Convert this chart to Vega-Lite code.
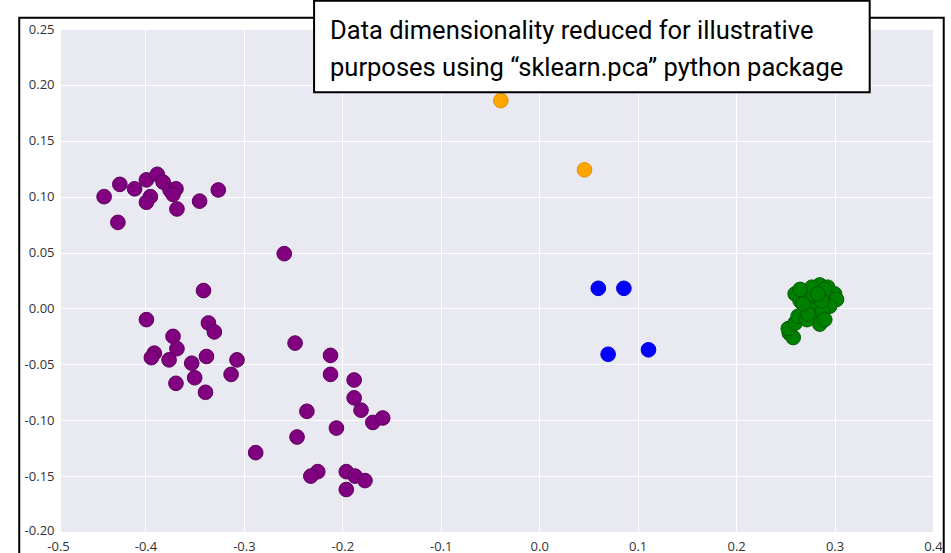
{
  "$schema": "https://vega.github.io/schema/vega-lite/v6.json",
  "width": 872,
  "height": 503,
  "autosize": {"type": "none"},
  "padding": {"left": 61, "top": 29, "right": 18, "bottom": 21},
  "background": "white",
  "config": {"view": {"fill": "#E8E9F1", "stroke": null}, "font": "Open Sans"},
  "datasets": {
    "pts": [
      {"x": -0.442, "y": 0.100, "c": "p"}, {"x": -0.426, "y": 0.111, "c": "p"}, {"x": -0.411, "y": 0.107, "c": "p"},
      {"x": -0.399, "y": 0.115, "c": "p"}, {"x": -0.388, "y": 0.120, "c": "p"}, {"x": -0.382, "y": 0.113, "c": "p"},
      {"x": -0.395, "y": 0.100, "c": "p"}, {"x": -0.399, "y": 0.095, "c": "p"}, {"x": -0.375, "y": 0.106, "c": "p"},
      {"x": -0.369, "y": 0.107, "c": "p"}, {"x": -0.372, "y": 0.102, "c": "p"}, {"x": -0.368, "y": 0.089, "c": "p"},
      {"x": -0.345, "y": 0.096, "c": "p"}, {"x": -0.326, "y": 0.106, "c": "p"}, {"x": -0.428, "y": 0.077, "c": "p"},
      {"x": -0.259, "y": 0.049, "c": "p"},
      {"x": -0.341, "y": 0.016, "c": "p"}, {"x": -0.399, "y": -0.010, "c": "p"}, {"x": -0.336, "y": -0.013, "c": "p"},
      {"x": -0.330, "y": -0.021, "c": "p"}, {"x": -0.372, "y": -0.025, "c": "p"}, {"x": -0.368, "y": -0.036, "c": "p"},
      {"x": -0.391, "y": -0.040, "c": "p"}, {"x": -0.394, "y": -0.044, "c": "p"}, {"x": -0.376, "y": -0.046, "c": "p"},
      {"x": -0.338, "y": -0.043, "c": "p"}, {"x": -0.353, "y": -0.049, "c": "p"}, {"x": -0.307, "y": -0.046, "c": "p"},
      {"x": -0.350, "y": -0.062, "c": "p"}, {"x": -0.313, "y": -0.059, "c": "p"}, {"x": -0.369, "y": -0.067, "c": "p"},
      {"x": -0.339, "y": -0.075, "c": "p"},
      {"x": -0.248, "y": -0.031, "c": "p"}, {"x": -0.212, "y": -0.042, "c": "p"}, {"x": -0.212, "y": -0.059, "c": "p"},
      {"x": -0.188, "y": -0.064, "c": "p"}, {"x": -0.188, "y": -0.080, "c": "p"}, {"x": -0.181, "y": -0.091, "c": "p"},
      {"x": -0.169, "y": -0.102, "c": "p"}, {"x": -0.159, "y": -0.098, "c": "p"}, {"x": -0.236, "y": -0.092, "c": "p"},
      {"x": -0.206, "y": -0.107, "c": "p"}, {"x": -0.246, "y": -0.115, "c": "p"}, {"x": -0.288, "y": -0.129, "c": "p"},
      {"x": -0.225, "y": -0.146, "c": "p"}, {"x": -0.232, "y": -0.150, "c": "p"}, {"x": -0.196, "y": -0.146, "c": "p"},
      {"x": -0.187, "y": -0.150, "c": "p"}, {"x": -0.177, "y": -0.154, "c": "p"}, {"x": -0.196, "y": -0.162, "c": "p"},
      {"x": -0.039, "y": 0.186, "c": "o"}, {"x": 0.046, "y": 0.124, "c": "o"},
      {"x": 0.060, "y": 0.018, "c": "b"}, {"x": 0.086, "y": 0.018, "c": "b"}, {"x": 0.070, "y": -0.041, "c": "b"},
      {"x": 0.111, "y": -0.037, "c": "b"},
      {"x": 0.254, "y": -0.022, "c": "g"}, {"x": 0.258, "y": -0.026, "c": "g"}, {"x": 0.253, "y": -0.018, "c": "g"},
      {"x": 0.260, "y": -0.013, "c": "g"}, {"x": 0.263, "y": -0.007, "c": "g"}, {"x": 0.260, "y": 0.013, "c": "g"},
      {"x": 0.265, "y": 0.007, "c": "g"}, {"x": 0.272, "y": 0.014, "c": "g"}, {"x": 0.285, "y": 0.021, "c": "g"},
      {"x": 0.293, "y": 0.019, "c": "g"}, {"x": 0.300, "y": 0.013, "c": "g"}, {"x": 0.302, "y": 0.008, "c": "g"},
      {"x": 0.295, "y": 0.002, "c": "g"}, {"x": 0.278, "y": 0.010, "c": "g"}, {"x": 0.282, "y": 0.002, "c": "g"},
      {"x": 0.275, "y": -0.001, "c": "g"}, {"x": 0.280, "y": -0.007, "c": "g"}, {"x": 0.288, "y": -0.002, "c": "g"},
      {"x": 0.285, "y": -0.014, "c": "g"}, {"x": 0.290, "y": -0.010, "c": "g"}, {"x": 0.272, "y": -0.010, "c": "g"},
      {"x": 0.273, "y": -0.005, "c": "g"}, {"x": 0.290, "y": 0.017, "c": "g"}, {"x": 0.287, "y": 0.007, "c": "g"},
      {"x": 0.268, "y": 0.004, "c": "g"}, {"x": 0.277, "y": 0.019, "c": "g"}, {"x": 0.265, "y": 0.017, "c": "g"},
      {"x": 0.283, "y": 0.013, "c": "g"}
    ]
  },
  "layer": [
    {
      "data": {"name": "pts"},
      "mark": {"type": "circle", "size": 215, "opacity": 1, "strokeWidth": 1},
      "encoding": {
        "x": {
          "field": "x", "type": "quantitative",
          "scale": {"domain": [-0.5, 0.4], "range": [-14, 872], "nice": false, "zero": false},
          "axis": {
            "title": null, "values": [-0.5, -0.4, -0.3, -0.2, -0.1, 0, 0.1, 0.2, 0.3, 0.4],
            "format": ".1f", "labelExpr": "replace(datum.label, '\u2212', '-')",
            "domain": false, "ticks": false, "labelFontSize": 13, "labelColor": "#333333",
            "labelPadding": 8, "labelFlush": false, "labelOverlap": false, "labelBound": false,
            "labelOffset": {"condition": {"test": "datum.value < -0.45", "value": 11}, "value": 0},
            "gridColor": {"condition": {"test": "datum.value < -0.45", "value": "transparent"}, "value": "#ffffff"},
            "gridWidth": 1
          }
        },
        "y": {
          "field": "y", "type": "quantitative",
          "scale": {"domain": [-0.2, 0.25], "nice": false, "zero": false},
          "axis": {
            "title": null, "values": [-0.2, -0.15, -0.1, -0.05, 0, 0.05, 0.1, 0.15, 0.2, 0.25],
            "format": ".2f", "labelExpr": "replace(datum.label, '\u2212', '-')",
            "domain": false, "ticks": false, "labelFontSize": 13, "labelColor": "#333333",
            "labelPadding": 7, "labelFlush": false, "labelOverlap": false,
            "labelOffset": {"condition": {"test": "datum.value < -0.18", "value": -2}, "value": 0},
            "gridColor": "#ffffff", "gridWidth": 1
          }
        },
        "fill": {"field": "c", "type": "nominal", "legend": null,
          "scale": {"domain": ["p", "o", "b", "g"], "range": ["#800080", "#FFA500", "#0000FF", "#008000"]}},
        "stroke": {"field": "c", "type": "nominal", "legend": null,
          "scale": {"domain": ["p", "o", "b", "g"], "range": ["#5c005c", "#e0900a", "#0000d0", "#005c00"]}}
      }
    },
    {
      "data": {"values": [{}]},
      "mark": {"type": "rect", "fill": "transparent", "stroke": "black", "strokeWidth": 2, "clip": false},
      "encoding": {
        "x": {"datum": -0.5282, "type": "quantitative"},
        "x2": {"datum": 0.4109},
        "y": {"datum": 0.2601, "type": "quantitative"},
        "y2": {"datum": -0.235}
      }
    },
    {
      "data": {"values": [{}]},
      "mark": {"type": "rect", "fill": "white", "stroke": "black", "strokeWidth": 2, "clip": false},
      "encoding": {
        "x": {"datum": -0.2287, "type": "quantitative"},
        "x2": {"datum": 0.3357},
        "y": {"datum": 0.2753, "type": "quantitative"},
        "y2": {"datum": 0.1935}
      }
    },
    {
      "data": {"values": [{}]},
      "mark": {
        "type": "text", "align": "left", "baseline": "alphabetic",
        "text": ["Data dimensionality reduced for illustrative", "purposes using “sklearn.pca” python package"],
        "font": "Roboto", "fontSize": 25.5, "lineHeight": 37,
        "color": "black"
      },
      "encoding": {
        "x": {"datum": -0.2125, "type": "quantitative"},
        "y": {"datum": 0.2409, "type": "quantitative"}
      }
    }
  ]
}
